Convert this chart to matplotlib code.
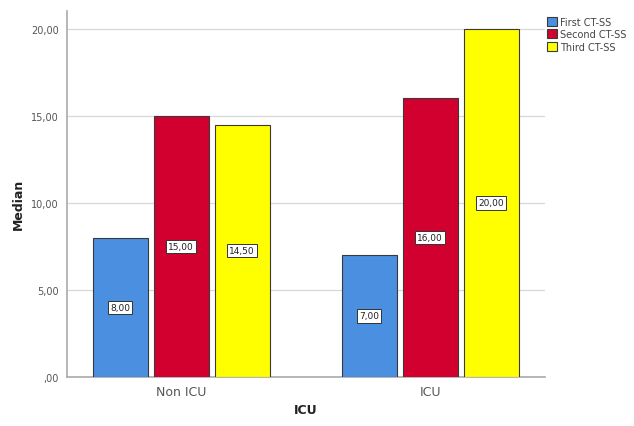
import numpy as np
import matplotlib.pyplot as plt

groups = ["Non ICU", "ICU"]
series = ["First CT-SS", "Second CT-SS", "Third CT-SS"]
first = [8.0, 7.0]
second = [15.0, 16.0]
third = [14.5, 20.0]
colors = ["#4A8FE0", "#D2002E", "#FFFF00"]
yticks = [0, 5, 10, 15, 20]


def fmt(v):
    s = "%.2f" % v
    s = s.replace(".", ",")
    if s.startswith("0,"):
        s = s[1:]
    return s


fig = plt.figure(figsize=(6.34, 4.27), dpi=100)
ax = fig.add_axes([0.106, 0.115, 0.754, 0.857])

x = np.arange(len(groups))
width = 0.221
step = 0.245
for i, (vals, name) in enumerate(zip([first, second, third], series)):
    pos = x + (i - 1) * step
    ax.bar(pos, vals, width, color=colors[i], edgecolor="#3a3a3a",
           linewidth=0.8, label=name, zorder=3)
    for p, v in zip(pos, vals):
        ax.text(p, v / 2, fmt(v), ha="center", va="center", fontsize=6.5,
                color="#222222", zorder=4,
                bbox=dict(boxstyle="square,pad=0.25", fc="white",
                          ec="#333333", lw=0.7))

ax.set_xlim(-0.458, 1.462)
ax.set_ylim(0, 21.03)
ax.set_yticks(yticks)
ax.set_yticklabels([fmt(t) for t in yticks], fontsize=7, color="#555555")
ax.set_xticks(x)
ax.set_xticklabels(groups, fontsize=9, color="#555555")
ax.tick_params(axis="x", length=0, pad=6)
ax.tick_params(axis="y", length=0, pad=6)
ax.yaxis.grid(True, color="#d8d8d8", linewidth=0.9, zorder=0)
for s in ["top", "right"]:
    ax.spines[s].set_visible(False)
for s in ["left", "bottom"]:
    ax.spines[s].set_color("#aaaaaa")
    ax.spines[s].set_linewidth(1.2)

# axis titles placed like the SPSS output
fig.text(18 / 634, 1 - 204 / 427, "Median", rotation=90, ha="center",
         va="center", fontsize=9, fontweight="bold", color="#222222")
fig.text(306 / 634, 1 - 411 / 427, "ICU", ha="center", va="center",
         fontsize=9, fontweight="bold", color="#222222")

leg = ax.legend(loc="upper left", bbox_to_anchor=(0.996, 0.995), fontsize=7,
                frameon=False, handlelength=1.0, handleheight=1.0,
                handletextpad=0.3, labelspacing=0.25, borderaxespad=0)
for t in leg.get_texts():
    t.set_color("#444444")

fig.savefig("out.png", dpi=100)
